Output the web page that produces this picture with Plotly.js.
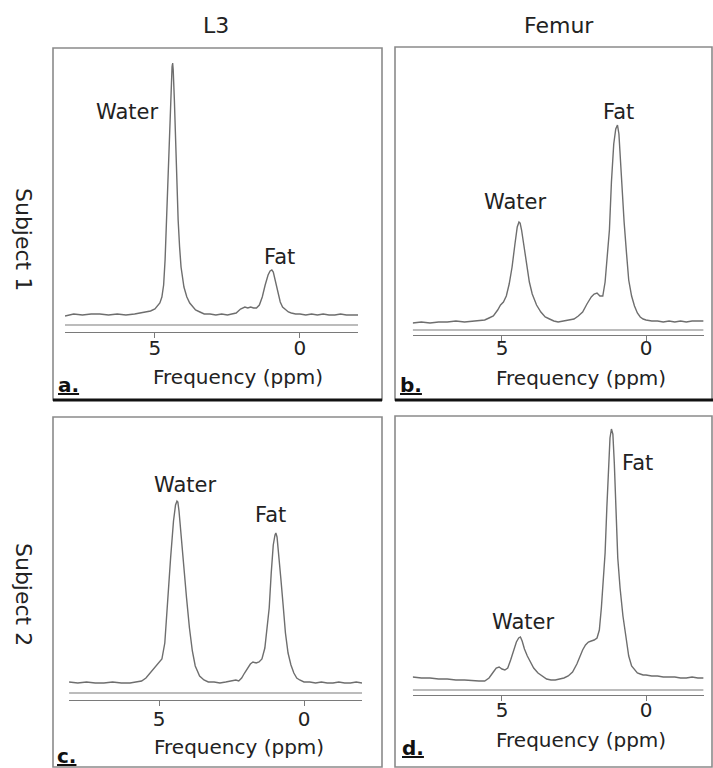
<!DOCTYPE html>
<html>
<head>
<meta charset="utf-8">
<script src="https://cdn.plot.ly/plotly-3.0.1.min.js"></script>
<style>html,body{margin:0;padding:0;background:#fff;}#chart{width:713px;height:768px;}</style>
</head>
<body>
<div id="chart"></div>
<script>
// ---- data (ppm, signal intensity in arbitrary units) ----
const columnTitles = ["L3", "Femur"];
const rowTitles = ["Subject 1", "Subject 2"];
const panelLetters = ["a.", "b.", "c.", "d."];
const tickValues = [5, 0];
const tickLabels = ["5", "0"];
const axisTitle = "Frequency (ppm)";

const ppmA = [8.1,7.8,7.5,7.2,6.9,6.6,6.3,6.0,5.7,5.5,5.3,5.15,5.0,4.9,4.83,4.76,4.7,4.65,4.6,4.55,4.5,4.45,4.41,4.39,4.37,4.33,4.29,4.25,4.2,4.15,4.1,4.0,3.9,3.8,3.7,3.6,3.45,3.3,3.1,2.9,2.7,2.5,2.35,2.2,2.05,1.9,1.8,1.7,1.6,1.5,1.4,1.3,1.2,1.1,1.03,0.97,0.92,0.86,0.8,0.74,0.68,0.6,0.5,0.4,0.3,0.15,0.0,-0.2,-0.4,-0.6,-0.8,-1.0,-1.2,-1.4,-1.6,-1.8,-2.0];
const sigA = [-1,1,0,1,1,0,1,0,1,2,3,4,6,9,12,18,30,55,95,140,185,225,248,252,245,215,170,130,95,68,48,28,18,12,8,5,3,1,1,0,1,0,1,2,6,8,7,8,7,7,10,18,30,40,44,45,43,36,27,19,13,8,5,3,2,1,1,0,1,0,1,0,0,1,0,0,0];

const ppmB = [8.1,7.8,7.5,7.2,6.9,6.6,6.3,6.0,5.8,5.6,5.45,5.3,5.15,5.05,4.95,4.85,4.75,4.65,4.55,4.47,4.41,4.37,4.32,4.25,4.15,4.05,3.95,3.8,3.65,3.5,3.35,3.2,3.05,2.9,2.7,2.5,2.35,2.2,2.05,1.9,1.8,1.7,1.6,1.5,1.42,1.35,1.27,1.2,1.12,1.05,0.99,0.94,0.89,0.83,0.76,0.68,0.6,0.5,0.4,0.3,0.2,0.1,0.0,-0.2,-0.4,-0.6,-0.8,-1.0,-1.2,-1.4,-1.6,-1.8,-2.0];
const sigB = [-1,0,-1,0,0,1,0,1,1,2,4,6,12,17,20,26,38,55,78,95,100,99,92,78,58,40,28,17,10,5,3,1,0,1,2,3,6,10,18,25,28,29,26,26,40,62,92,140,178,193,197,188,162,128,100,70,42,26,16,9,5,3,2,1,1,0,1,0,1,0,1,1,1];

const ppmC = [8.1,7.8,7.5,7.2,6.9,6.6,6.3,6.0,5.8,5.6,5.45,5.3,5.15,5.0,4.9,4.8,4.7,4.6,4.5,4.43,4.38,4.35,4.31,4.25,4.15,4.05,3.95,3.85,3.75,3.6,3.45,3.3,3.1,2.9,2.7,2.5,2.35,2.25,2.15,2.05,1.95,1.85,1.76,1.65,1.55,1.45,1.35,1.27,1.2,1.13,1.06,1.0,0.97,0.93,0.87,0.8,0.72,0.64,0.55,0.45,0.35,0.25,0.15,0.0,-0.2,-0.4,-0.6,-0.8,-1.0,-1.2,-1.4,-1.6,-1.8,-2.0];
const sigC = [1,0,1,0,0,1,0,0,1,2,5,10,16,21,24,40,85,125,162,178,182,181,172,150,115,85,55,32,17,7,3,1,1,0,1,2,3,2,5,10,15,19,21,20,21,24,35,55,75,110,138,148,150,146,130,105,78,50,30,18,10,5,3,1,1,0,1,0,0,1,0,0,1,0];

const ppmD = [8.1,7.8,7.5,7.2,6.9,6.6,6.3,6.0,5.8,5.6,5.45,5.3,5.2,5.1,5.0,4.9,4.8,4.7,4.6,4.5,4.42,4.36,4.3,4.22,4.12,4.02,3.9,3.75,3.6,3.45,3.3,3.15,3.0,2.85,2.7,2.55,2.4,2.3,2.2,2.1,2.0,1.9,1.8,1.7,1.62,1.55,1.48,1.42,1.36,1.3,1.25,1.2,1.15,1.1,1.04,0.98,0.9,0.8,0.7,0.6,0.5,0.4,0.3,0.2,0.1,0.0,-0.2,-0.4,-0.6,-0.8,-1.0,-1.2,-1.4,-1.6,-1.8,-2.0];
const sigD = [1,0,0,-1,-1,-2,-2,-3,-3,-3,0,6,10,11,9,8,10,18,28,36,40,41,37,29,22,16,10,5,2,-1,-2,-2,-1,0,2,6,14,21,28,33,36,37,38,40,48,70,100,125,170,215,240,249,244,215,160,120,90,62,42,22,12,8,5,4,3,3,2,2,1,1,1,0,0,1,0,0];

// peak label positions (ppm, intensity)
const peakLabels = [
  {panel:0, text:"Water", ppm:5.97, sig:203},
  {panel:0, text:"Fat",   ppm:0.72, sig:58},
  {panel:1, text:"Water", ppm:4.55, sig:120},
  {panel:1, text:"Fat",   ppm:0.97, sig:210},
  {panel:2, text:"Water", ppm:4.10, sig:198},
  {panel:2, text:"Fat",   ppm:1.14, sig:168},
  {panel:3, text:"Water", ppm:4.27, sig:56},
  {panel:3, text:"Fat",   ppm:0.31, sig:215}
];

// ---- layout helpers (pixel -> paper) ----
const W = 713, H = 768;
const px = v => v / W;
const py = v => 1 - v / H;

const FONT = "DejaVu Sans, Open Sans, sans-serif";
const TXT = "#222";
const LINEC = "#7a7a7a";

const panels = [
  {x:ppmA, y:sigA, dom:[65,358], ydom:[50,332], yr:[-17,265], upper:-10, standoff:-7},
  {x:ppmB, y:sigB, dom:[412.7,703.6], ydom:[50,335], yr:[-13,272], upper:-8, standoff:-10},
  {x:ppmC, y:sigC, dom:[69.1,362], ydom:[420,700], yr:[-17,263], upper:-10, standoff:-4},
  {x:ppmD, y:sigD, dom:[412.7,703.6], ydom:[420,695], yr:[-17,258], upper:-12, standoff:-8}
];

const traces = [];
const layout = {
  width: W, height: H,
  margin: {l:0, r:0, t:0, b:0},
  paper_bgcolor: "#fff", plot_bgcolor: "rgba(0,0,0,0)",
  showlegend: false,
  font: {family: FONT, color: TXT, size: 20},
  shapes: [], annotations: []
};

panels.forEach((p, i) => {
  const n = i === 0 ? "" : String(i + 1);
  traces.push({
    type: "scatter", mode: "lines",
    x: p.x, y: p.y,
    xaxis: "x" + n, yaxis: "y" + n,
    line: {color: "#6e6e6e", width: 1.4},
    hoverinfo: "skip"
  });
  layout["xaxis" + n] = {
    domain: [px(p.dom[0]), px(p.dom[1])],
    anchor: "y" + n,
    range: [8.1, -2.0],
    showgrid: false, zeroline: false,
    showline: true, linecolor: LINEC, linewidth: 1.2,
    ticks: "outside", ticklen: 5, tickcolor: LINEC, tickwidth: 1,
    tickmode: "array", tickvals: tickValues, ticktext: tickLabels,
    ticklabelstandoff: p.standoff,
    tickfont: {family: FONT, size: 20, color: TXT},
    fixedrange: true
  };
  layout["yaxis" + n] = {
    domain: [py(p.ydom[1]), py(p.ydom[0])],
    anchor: "x" + n,
    range: p.yr,
    visible: false, fixedrange: true
  };
  // upper line of the double baseline rule
  layout.shapes.push({
    type: "line", xref: "x" + n, yref: "y" + n,
    x0: 8.1, x1: -2.0, y0: p.upper, y1: p.upper,
    line: {color: LINEC, width: 1.2}
  });
});

// peak labels
peakLabels.forEach(l => {
  const n = l.panel === 0 ? "" : String(l.panel + 1);
  layout.annotations.push({
    xref: "x" + n, yref: "y" + n, x: l.ppm, y: l.sig,
    text: l.text, showarrow: false,
    xanchor: "center", yanchor: "middle",
    font: {family: FONT, size: 21, color: TXT}
  });
});

// panel frames
const frames = [
  [53, 382, 48, 400], [395, 712, 47, 400],
  [53, 382, 417, 767], [395, 712, 416, 767]
];
frames.forEach(f => {
  layout.shapes.push({
    type: "rect", xref: "paper", yref: "paper",
    x0: px(f[0]), x1: px(f[1]), y0: py(f[3]), y1: py(f[2]),
    line: {color: "#8a8a8a", width: 1.6}
  });
});
// heavy bottom rules under the top row
[[53, 382], [395, 713]].forEach(s => {
  layout.shapes.push({
    type: "line", xref: "paper", yref: "paper",
    x0: px(s[0]), x1: px(s[1]), y0: py(400), y1: py(400),
    line: {color: "#111", width: 3}
  });
});

// column and row headings
layout.annotations.push(
  {xref:"paper", yref:"paper", x:px(216), y:py(26), text:columnTitles[0], showarrow:false, xanchor:"center", yanchor:"middle", font:{family:FONT, size:22, color:TXT}},
  {xref:"paper", yref:"paper", x:px(559), y:py(25), text:columnTitles[1], showarrow:false, xanchor:"center", yanchor:"middle", font:{family:FONT, size:22, color:TXT}},
  {xref:"paper", yref:"paper", x:px(24), y:py(239), text:rowTitles[0], textangle:90, showarrow:false, xanchor:"center", yanchor:"middle", font:{family:FONT, size:22, color:TXT}},
  {xref:"paper", yref:"paper", x:px(24), y:py(594), text:rowTitles[1], textangle:90, showarrow:false, xanchor:"center", yanchor:"middle", font:{family:FONT, size:22, color:TXT}}
);

// axis titles
const axisTitlePos = [[238, 377], [581, 378], [239, 747], [581, 740]];
axisTitlePos.forEach(pt => {
  layout.annotations.push({
    xref:"paper", yref:"paper", x:px(pt[0]), y:py(pt[1]),
    text: axisTitle, showarrow:false, xanchor:"center", yanchor:"middle",
    font:{family:FONT, size:20, color:TXT}
  });
});

// panel letters
const letterPos = [[68, 385], [411, 385], [66, 756], [413, 748]];
letterPos.forEach((pt, i) => {
  layout.annotations.push({
    xref:"paper", yref:"paper", x:px(pt[0]), y:py(pt[1]),
    text: "<b><u>" + panelLetters[i] + "</u></b>", showarrow:false,
    xanchor:"center", yanchor:"middle",
    font:{family:FONT, size:20, color:"#111"}
  });
});

Plotly.newPlot("chart", traces, layout, {staticPlot: true, displayModeBar: false});
</script>
</body>
</html>
